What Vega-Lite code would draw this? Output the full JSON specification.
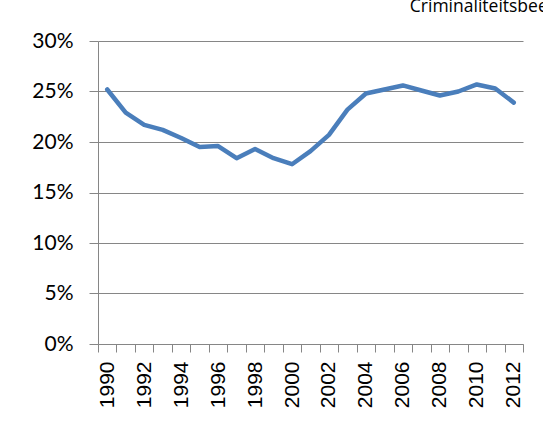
{
  "$schema": "https://vega.github.io/schema/vega-lite/v6.json",
  "autosize": "none",
  "width": 425,
  "height": 303,
  "padding": {"left": 98, "top": 41, "right": 20, "bottom": 81},
  "background": "white",
  "title": {
    "text": "Criminaliteitsbeeld",
    "anchor": "start",
    "dx": 378,
    "offset": 15,
    "font": "Open Sans",
    "fontSize": 17.5,
    "fontWeight": "normal",
    "color": "#000000"
  },
  "data": {
    "values": [
      {"year": 1990, "value": 0.252},
      {"year": 1991, "value": 0.229},
      {"year": 1992, "value": 0.217},
      {"year": 1993, "value": 0.212},
      {"year": 1994, "value": 0.204},
      {"year": 1995, "value": 0.195},
      {"year": 1996, "value": 0.196},
      {"year": 1997, "value": 0.184},
      {"year": 1998, "value": 0.193},
      {"year": 1999, "value": 0.184},
      {"year": 2000, "value": 0.178},
      {"year": 2001, "value": 0.191},
      {"year": 2002, "value": 0.207},
      {"year": 2003, "value": 0.232},
      {"year": 2004, "value": 0.248},
      {"year": 2005, "value": 0.252},
      {"year": 2006, "value": 0.256},
      {"year": 2007, "value": 0.251},
      {"year": 2008, "value": 0.246},
      {"year": 2009, "value": 0.250},
      {"year": 2010, "value": 0.257},
      {"year": 2011, "value": 0.253},
      {"year": 2012, "value": 0.239}
    ]
  },
  "mark": {"type": "line", "color": "#4A7EBB", "strokeWidth": 4.5, "strokeJoin": "round", "strokeCap": "round"},
  "encoding": {
    "x": {
      "field": "year",
      "type": "ordinal",
      "bandPosition": 0.5,
      "scale": {"type": "band", "paddingInner": 0, "paddingOuter": 0},
      "axis": {
        "title": null,
        "grid": false,
        "tickBand": "extent",
        "labelAngle": -90,
        "labelAlign": "right",
        "labelBaseline": "middle",
        "labelExpr": "datum.value % 2 == 0 ? datum.label : ''",
        "labelFont": "Liberation Sans",
        "labelFontSize": 21,
        "labelColor": "#000000",
        "labelPadding": 9,
        "tickSize": 8,
        "tickColor": "#868686",
        "domainColor": "#868686",
        "labelOverlap": false
      }
    },
    "y": {
      "field": "value",
      "type": "quantitative",
      "scale": {"domain": [0, 0.3], "nice": false, "zero": true},
      "axis": {
        "title": null,
        "values": [0, 0.05, 0.1, 0.15, 0.2, 0.25, 0.3],
        "format": ".0%",
        "labelFont": "Lato",
        "labelFontSize": 21,
        "labelColor": "#000000",
        "labelPadding": 16,
        "tickSize": 9,
        "tickColor": "#868686",
        "domainColor": "#868686",
        "gridColor": "#868686",
        "gridOpacity": 1,
        "grid": true
      }
    }
  },
  "config": {
    "view": {"stroke": null},
    "axis": {"domainWidth": 1, "tickWidth": 1, "gridWidth": 1}
  }
}
